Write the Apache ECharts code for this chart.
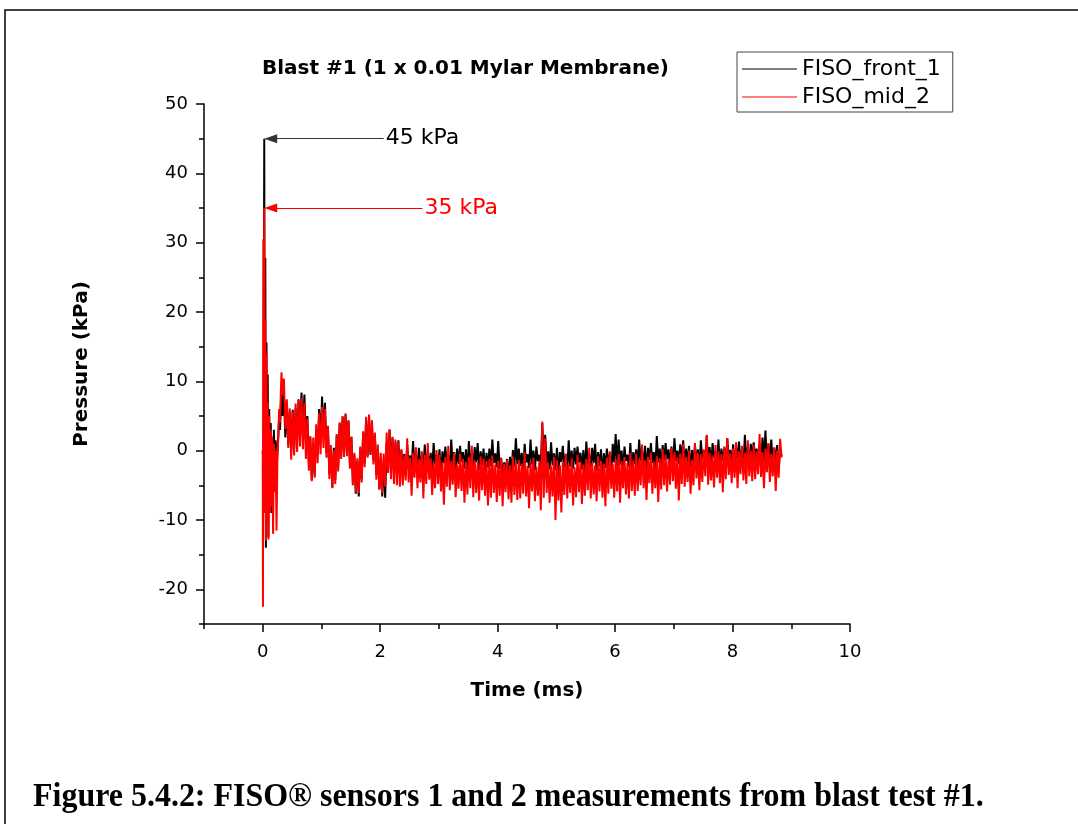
<!DOCTYPE html>
<html>
<head>
<meta charset="utf-8">
<script src="https://cdn.jsdelivr.net/npm/echarts@6/dist/echarts.min.js"></script>
<style>
  html, body { margin: 0; padding: 0; background: #fff; }
  #chart { width: 1078px; height: 824px; }
</style>
</head>
<body>
<div id="chart"></div>
<script>
// Blast #1 — FISO pressure sensor traces (kPa) against time (ms)

// Shock arrival: irregular sample times (ms) shared by both sensors
const transientTime = [0, 0.004, 0.01, 0.018, 0.026, 0.034, 0.044, 0.054, 0.064, 0.074,
  0.085, 0.097, 0.11, 0.123, 0.137, 0.15, 0.163, 0.176, 0.19, 0.205,
  0.22, 0.235, 0.25, 0.265, 0.28, 0.295, 0.31, 0.32, 0.335];
const frontTransient = [0, -0.5, -4, 18, 45, -6, 27.8, -14, 15.6, -7.5,
  11, -12.5, 6, -6, 4, -9, 2, -5, 3, -3,
  1.5, -4, 0, 2, 5, 3, 7, 8.5, 5];
const midTransient = [0, -22.5, 30.5, 4, 35, -9, 19, -13, 14, -10,
  7, -12.8, 5, -9, 3, -8, 2, -12, 1, -6,
  0, -11.5, -1, 2, 6, 4, 9, 11.3, 8];

// Decay record: fixed sample clock from tailStart (ms), tailStep apart
const tailStart = 0.36;
const tailStep = 0.025;
const frontTail = [
  8.2, 1.9, 6.9, 0.8, 5.6, 0.2, 5.9, 0.4, 6.1, 1.3, 7.4, 2.0, 8.4, 3.1, 8.1, 1.6, 5.0, -1.8, 1.9, -4.2,
  0.6, -3.6, 3.1, -0.7, 6.0, 1.0, 7.8, 2.1, 6.9, -0.3, 3.5, -3.4, 0.2, -5.3, 0.4, -4.2, 2.2, -2.3, 3.9, -0.9,
  4.9, -0.4, 5.2, -0.1, 4.3, -2.0, 2.0, -4.8, -0.6, -6.2, -1.5, -6.6, 0.3, -4.1, 2.6, -1.9, 4.4, -0.8, 4.9, -0.6,
  3.8, -1.4, 2.3, -3.5, 0.2, -5.6, -1.0, -6.6, -1.4, -6.8, 1.1, -2.8, 3.0, -2.2, 1.9, -3.4, 1.2, -3.6, 1.5, -3.1,
  0.1, -2.4, -0.5, -3.6, 0.8, -1.9, -0.7, -2.7, 1.4, -2.2, -0.2, -3.0, 0.4, -1.7, -0.8, -2.5, 0.9, -3.3, -0.4, -2.1,
  -0.3, -2.9, 1.1, -2.0, -0.6, -2.6, 0.2, -3.8, -0.1, -1.8, 0.6, -2.3, -0.7, -3.1, 1.6, -2.2, -0.2, -2.7, 0.3, -1.9,
  0.7, -1.6, -0.2, -2.6, 0.2, -3.2, 1.4, -1.9, -0.4, -2.3, 0.5, -1.7, 1.1, -2.8, -0.1, -2.1, 0.3, -3.5, -0.3, -2.4,
  0.3, -2.2, 1.6, -1.8, -0.4, -2.4, 1.4, -2.6, -1.1, -3.5, -1.7, -3.0, -1.2, -4.0, -0.9, -3.2, 0.1, -2.3, 1.8, -1.9,
  0.3, -2.2, -0.3, -3.4, 1.0, -1.7, -0.5, -2.5, 1.6, -2.0, 0.0, -2.8, 0.6, -1.5, -0.6, -2.3, 4.0, -1.4, 2.3, -1.9,
  -0.1, -2.7, 1.2, -2.1, -0.4, -2.8, 0.4, -3.6, -0.2, -1.6, 0.7, -2.5, -0.5, -3.0, 1.5, -2.3, 0.0, -2.6, 0.4, -2.0,
  0.6, -1.7, -0.3, -2.7, 0.1, -3.3, 1.3, -2.0, -0.5, -2.4, 0.4, -1.8, 1.0, -2.9, -0.2, -2.2, 0.2, -3.6, -0.4, -2.5,
  0.3, -2.2, -0.3, -3.4, 1.0, -1.7, 2.4, -2.5, 1.6, -2.0, 0.0, -2.8, 0.6, -1.5, -0.6, -2.3, 1.1, -3.1, -0.2, -1.9,
  0.2, -2.4, 1.6, -1.5, -0.1, -2.1, 0.7, -3.3, 0.4, -1.3, 1.1, -1.8, -0.2, -2.6, 2.1, -1.7, 0.3, -2.2, 0.8, -1.4,
  1.1, -1.2, 0.2, -2.2, 0.6, -2.8, 1.8, -1.5, 0.0, -1.9, 0.9, -1.3, 1.5, -2.4, 0.3, -1.7, 0.7, -3.1, 0.1, -2.0,
  0.8, -1.7, 0.2, -2.9, 1.5, -1.2, 0.0, -2.0, 2.1, -1.5, 0.5, -2.3, 1.1, -1.0, -0.1, -1.8, 1.6, -2.6, 0.3, -1.4,
  0.4, -2.2, 1.8, -1.3, 0.1, -1.9, 0.9, -3.1, 0.6, -1.1, 1.3, -1.6, 0.0, -2.4, 2.3, -1.5, 0.5, -2.0, 1.0, -1.2,
  1.2, -1.1, 0.3, -2.1, 0.7, -2.7, 1.9, -1.4, 2.9, -1.8, 1.0, -1.2, 1.6, -2.3, 0.4, -1.6, 0.8, -3.0, 0.2, -0.8
];
const midTail = [
  10.4, 3.1, 7.4, 0.4, 6.1, -1.3, 5.6, -0.7, 6.8, -0.2, 7.3, 0.6, 7.6, 0.2, 6.9, -1.2, 4.6, -2.9, 2.1, -4.4,
  1.9, -3.9, 3.8, -1.8, 5.4, -0.5, 6.3, 0.4, 6.0, -1.0, 3.6, -4.1, 0.8, -5.4, 0.1, -4.8, 2.4, -3.0, 4.1, -1.2,
  5.0, -0.9, 5.4, -0.8, 4.4, -2.6, 2.0, -5.0, -0.3, -6.0, -1.1, -6.1, 0.6, -4.6, 2.8, -2.4, 4.9, -1.0, 5.2, -0.6,
  4.4, -2.0, 2.6, -4.2, 0.9, -5.6, -0.3, -6.1, -0.4, -5.2, 2.6, -3.2, 3.1, -4.1, 2.0, -4.8, 1.6, -5.0, 1.3, -5.2,
  0.2, -5.0, -0.7, -4.3, 1.8, -4.6, -1.0, -6.5, -0.3, -3.9, 0.5, -5.4, -1.2, -4.6, -0.1, -6.9, -0.6, -4.8, 1.1, -4.2,
  -1.1, -6.4, -1.8, -5.4, 0.1, -4.8, -0.6, -5.9, -1.6, -7.8, -0.9, -5.2, 0.7, -5.7, -1.5, -4.9, -0.3, -6.7, -2.0, -5.5,
  -0.5, -5.8, -1.2, -7.5, -1.6, -6.3, -0.9, -5.4, 0.7, -6.7, -1.4, -6.1, -1.8, -7.2, -0.8, -5.7, -1.1, -6.5, -1.5, -7.9,
  -1.2, -6.8, -0.7, -6.1, -2.0, -7.4, -1.5, -6.5, -1.0, -8.0, -1.9, -6.0, -1.3, -7.0, -2.1, -7.5, -0.8, -6.4, -1.7, -7.1,
  -1.3, -6.9, -1.9, -6.2, -0.2, -6.6, -2.2, -8.3, -1.6, -5.9, -1.0, -7.3, -2.3, -6.5, -1.5, -8.6, 4.2, -6.8, 1.8, -6.1,
  -1.7, -7.5, -2.2, -6.6, -0.9, -10.0, -1.4, -7.2, -2.1, -8.9, -1.6, -6.4, -0.4, -6.9, -2.0, -6.1, -1.1, -7.9, -2.4, -6.7,
  -0.6, -6.0, -1.6, -7.7, -2.0, -6.5, -1.2, -5.7, 0.4, -6.9, -1.8, -6.3, -2.1, -7.3, -0.8, -5.9, -1.5, -6.8, -1.9, -8.0,
  -1.0, -6.2, -0.1, -5.5, -1.9, -6.8, -1.2, -5.9, -0.5, -7.5, -1.5, -5.4, -0.9, -6.3, -1.8, -6.9, -0.3, -5.8, -1.4, -6.5,
  -0.5, -5.8, -1.2, -5.0, 0.9, -5.4, -1.4, -7.1, -0.9, -4.7, -0.3, -6.2, -1.6, -5.4, -0.8, -7.4, -1.1, -5.6, 0.2, -5.0,
  -0.6, -5.9, -1.1, -4.9, 0.4, -4.4, -0.2, -5.5, -1.0, -7.2, -0.4, -4.8, 1.0, -5.2, -0.9, -4.5, 0.0, -6.2, -1.3, -5.0,
  1.1, -4.0, -0.3, -5.7, -0.5, -4.5, 0.2, -3.7, 2.3, -4.9, -0.3, -4.3, -0.7, -5.3, 0.8, -3.9, -0.1, -4.7, -0.5, -6.0,
  0.6, -4.1, 1.8, -3.5, -0.4, -4.7, 0.3, -3.9, 1.2, -5.4, -0.1, -3.4, 0.7, -4.3, -0.3, -4.8, 1.5, -3.7, 0.0, -4.4,
  0.8, -4.1, -0.1, -3.4, 2.4, -3.8, -0.2, -5.4, 0.3, -3.1, 1.1, -4.5, -0.4, -3.7, 0.5, -5.8, 0.0, -3.9, 1.7, -1.0
];

// Axis ticks
const xMajorTicks = [0, 2, 4, 6, 8, 10];
const xMinorTicks = [-1, 1, 3, 5, 7, 9];
const yMajorTicks = [-20, -10, 0, 10, 20, 30, 40, 50];
const yMinorTicks = [-25, -15, -5, 5, 15, 25, 35, 45];

// Where each peak callout's leader ends (ms)
const frontCalloutEnd = 2.06;
const midCalloutEnd = 2.72;
// Arrowhead sits just right of the peak so its tip touches the spike
const arrowTipShift = 0.11;

const seriesNames = ['FISO_front_1', 'FISO_mid_2'];

function buildTrace(transient, tail) {
  const pts = transient.map((v, i) => [transientTime[i], v]);
  tail.forEach((v, i) => pts.push([+(tailStart + i * tailStep).toFixed(3), v]));
  return pts;
}
function peakOf(pts) {
  return pts.reduce((best, p) => (p[1] > best[1] ? p : best), pts[0]);
}

const frontPts = buildTrace(frontTransient, frontTail);
const midPts = buildTrace(midTransient, midTail);
const frontPeak = peakOf(frontPts);
const midPeak = peakOf(midPts);

const FONT = 'DejaVu Sans';

function callout(peak, endT, lineColor, textColor) {
  return {
    silent: true,
    animation: false,
    precision: 0,
    lineStyle: { color: lineColor, width: 1, type: 'solid', opacity: 1 },
    emphasis: { disabled: true },
    label: {
      show: true,
      position: 'end',
      distance: 2,
      formatter: peak[1] + ' kPa',
      color: textColor,
      fontFamily: FONT,
      fontSize: 22
    },
    data: [[
      { coord: [peak[0] + arrowTipShift, peak[1]], symbol: 'triangle', symbolSize: [9, 13] },
      { coord: [endT, peak[1]], symbol: 'none' }
    ]]
  };
}

const chart = echarts.init(document.getElementById('chart'), null, { renderer: 'canvas' });

const axisText = { fontFamily: FONT, fontSize: 18, color: '#000' };
const traceWidth = 2;

chart.setOption({
  animation: false,
  backgroundColor: '#fff',
  title: {
    text: 'Blast #1 (1 x 0.01 Mylar Membrane)',
    left: 257,
    top: 54,
    textStyle: { fontFamily: FONT, fontSize: 20, fontWeight: 'bold', color: '#000' }
  },
  legend: {
    data: seriesNames.map(n => ({ name: n, icon: 'rect', itemStyle: { borderWidth: 0 } })),
    orient: 'vertical',
    left: 737,
    top: 52,
    itemWidth: 55,
    itemHeight: 1.2,
    itemGap: 4,
    itemTextGap: 3,
    padding: [5, 12, 3, 5],
    borderColor: '#444',
    borderWidth: 1,
    borderRadius: 0,
    backgroundColor: '#fff',
    textStyle: { fontFamily: FONT, fontSize: 22, lineHeight: 24, color: '#000' }
  },
  grid: { left: 204, right: 228, top: 104, bottom: 200, containLabel: false },
  xAxis: [
    {
      type: 'value',
      min: -1,
      max: 10,
      name: 'Time (ms)',
      nameLocation: 'middle',
      nameGap: 57,
      nameTextStyle: { fontFamily: FONT, fontSize: 20, fontWeight: 'bold', color: '#000' },
      axisLine: { show: true, onZero: false, lineStyle: { color: '#000', width: 1.5 } },
      axisTick: { show: true, inside: false, length: 8, customValues: xMajorTicks, lineStyle: { color: '#000', width: 1.5 } },
      axisLabel: Object.assign({ margin: 19, customValues: xMajorTicks }, axisText),
      splitLine: { show: false }
    },
    {
      type: 'value',
      min: -1,
      max: 10,
      position: 'bottom',
      axisLine: { show: false, onZero: false },
      axisTick: { show: true, inside: false, length: 5, customValues: xMinorTicks, lineStyle: { color: '#000', width: 1.5 } },
      axisLabel: { show: false },
      splitLine: { show: false }
    }
  ],
  yAxis: [
    {
      type: 'value',
      min: -25,
      max: 50,
      name: 'Pressure (kPa)',
      nameLocation: 'middle',
      nameGap: 112,
      nameTextStyle: { fontFamily: FONT, fontSize: 20, fontWeight: 'bold', color: '#000' },
      axisLine: { show: true, onZero: false, lineStyle: { color: '#000', width: 1.5 } },
      axisTick: { show: true, inside: false, length: 8, customValues: yMajorTicks, lineStyle: { color: '#000', width: 1.5 } },
      axisLabel: Object.assign({ margin: 16, customValues: yMajorTicks }, axisText),
      splitLine: { show: false }
    },
    {
      type: 'value',
      min: -25,
      max: 50,
      position: 'left',
      axisLine: { show: false, onZero: false },
      axisTick: { show: true, inside: false, length: 5, customValues: yMinorTicks, lineStyle: { color: '#000', width: 1.5 } },
      axisLabel: { show: false },
      splitLine: { show: false }
    }
  ],
  series: [
    {
      name: seriesNames[0],
      type: 'line',
      xAxisIndex: 0,
      yAxisIndex: 0,
      data: frontPts,
      symbol: 'none',
      sampling: false,
      color: '#000000',
      lineStyle: { color: '#000000', width: traceWidth },
      markLine: callout(frontPeak, frontCalloutEnd, '#333', '#000')
    },
    {
      name: seriesNames[1],
      type: 'line',
      xAxisIndex: 0,
      yAxisIndex: 0,
      data: midPts,
      symbol: 'none',
      sampling: false,
      color: '#ff0000',
      lineStyle: { color: '#ff0000', width: traceWidth },
      markLine: callout(midPeak, midCalloutEnd, '#ff0000', '#ff0000')
    }
  ],
  graphic: [
    {
      type: 'rect',
      silent: true,
      z: -10,
      shape: { x: 5, y: 10, width: 1100, height: 840 },
      style: { fill: 'none', stroke: '#000', lineWidth: 1.5 }
    },
    {
      type: 'text',
      silent: true,
      x: 33,
      y: 780,
      scaleX: 0.94,
      style: {
        text: 'Figure 5.4.2: FISO\u00AE sensors 1 and 2 measurements from blast test #1.',
        fontFamily: 'Liberation Serif',
        fontWeight: 'bold',
        fontSize: 34,
        fill: '#000'
      }
    }
  ]
});
</script>
</body>
</html>
